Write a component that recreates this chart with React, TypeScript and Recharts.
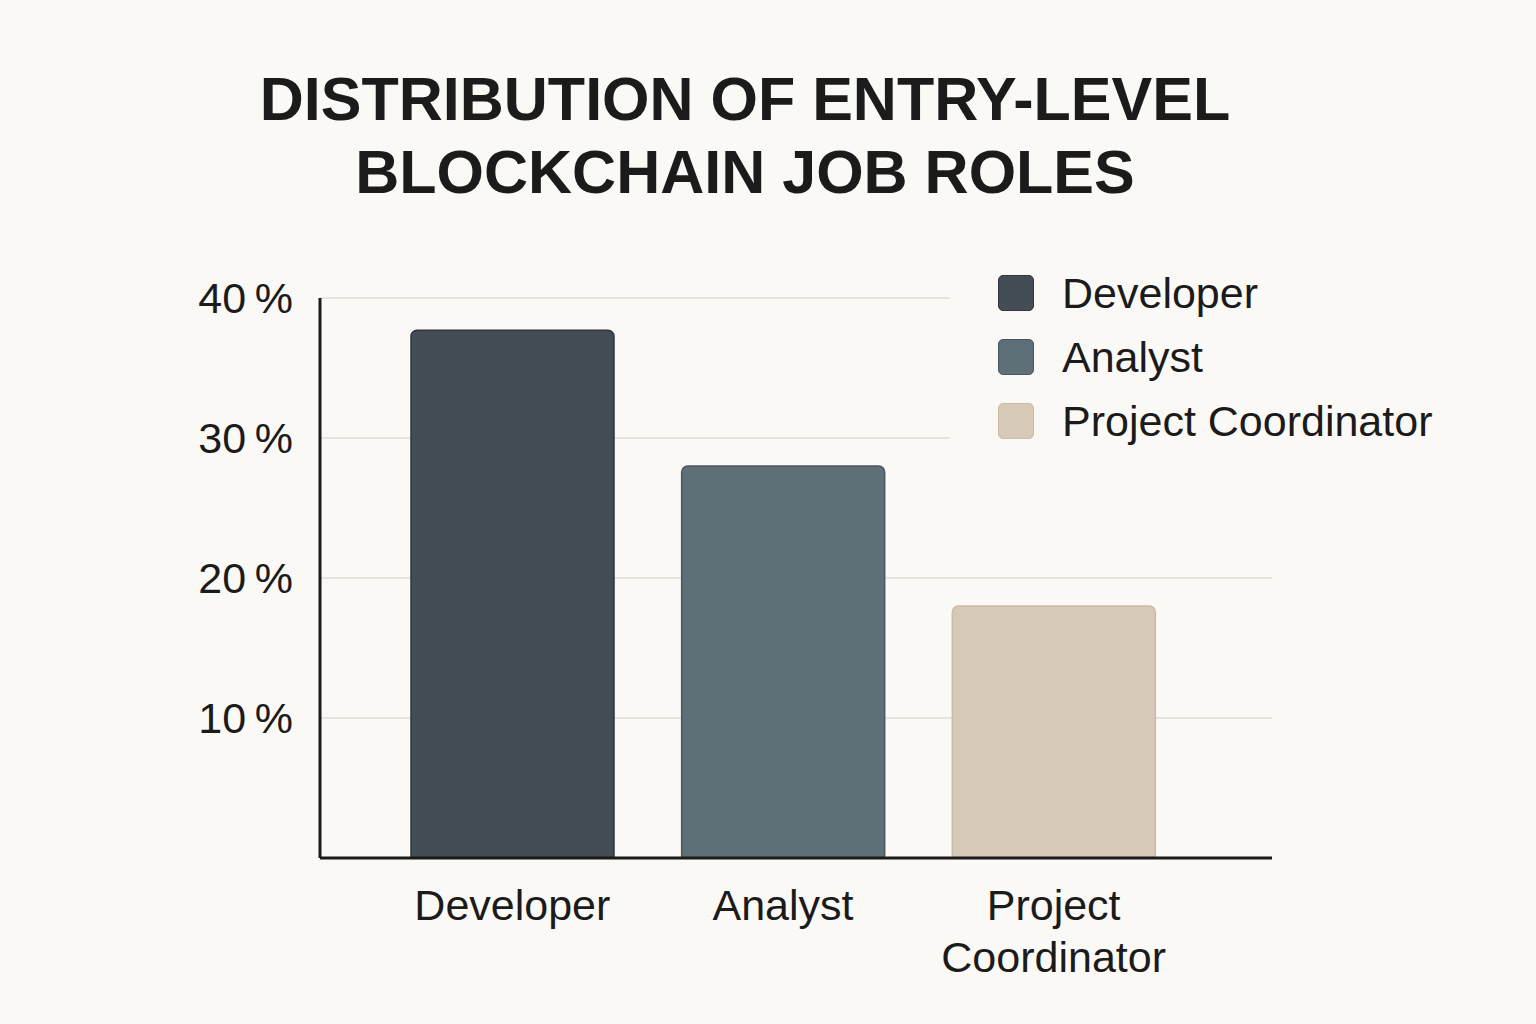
import React from 'react';
import { BarChart, Bar, XAxis, YAxis, CartesianGrid, Legend } from 'recharts';

const categories = ['Developer', 'Analyst', 'Project Coordinator'];
const shares = [37.7, 28, 18];
const colors = ['#444d56', '#5e6f77', '#d7c9b7'];
const strokes = ['#2f363d', '#4a585f', '#cbbca8'];
const yTicks = [10, 20, 30, 40];
const titleLines = ['DISTRIBUTION OF ENTRY-LEVEL', 'BLOCKCHAIN JOB ROLES'];

const BG = '#fbf9f5';
const INK = '#1b1b1b';
const FONT = "'Liberation Sans', Arial, Helvetica, sans-serif";

const data = categories.map((c, i) => ({ name: c, [c]: shares[i] }));

const XTick = (props: any) => {
  const { x, y, payload } = props;
  const words = String(payload.value).split(' ');
  return (
    <text x={x} y={y} textAnchor="middle" fill={INK} fontSize={43} fontFamily={FONT}>
      {words.map((w, i) => (
        <tspan key={i} x={x} dy={i === 0 ? 62 : 52}>
          {w}
        </tspan>
      ))}
    </text>
  );
};

const LegendContent = (props: any) => {
  const items = [...(props.payload || [])].sort(
    (a: any, b: any) => categories.indexOf(a.value) - categories.indexOf(b.value)
  );
  return (
    <div style={{ paddingLeft: 48 }}>
      {items.map((p: any) => {
        const i = categories.indexOf(p.value);
        return (
          <div key={p.value} style={{ display: 'flex', alignItems: 'center', height: 64 }}>
            <div
              style={{
                width: 36,
                height: 36,
                borderRadius: 5,
                background: p.color,
                boxSizing: 'border-box',
                border: `1px solid ${strokes[i]}`,
                marginRight: 28,
              }}
            />
            <span style={{ fontFamily: FONT, fontSize: 43, color: INK, whiteSpace: 'nowrap' }}>{p.value}</span>
          </div>
        );
      })}
    </div>
  );
};

export default function App() {
  return (
    <div style={{ position: 'absolute', left: 0, top: 0, width: 1536, height: 1024, background: BG, overflow: 'hidden' }}>
      <div
        style={{
          position: 'absolute',
          left: 0,
          top: 63,
          width: 1490,
          textAlign: 'center',
          fontFamily: FONT,
          fontWeight: 700,
          fontSize: 61,
          lineHeight: '73px',
          color: INK,
        }}
      >
        {titleLines.map((t, i) => (
          <div key={i}>{t}</div>
        ))}
      </div>
      <div style={{ position: 'absolute', left: 0, top: 0 }}>
        <BarChart width={1536} height={1024} data={data} margin={{ top: 298, right: 264, bottom: 66, left: 200 }}>
          <CartesianGrid vertical={false} stroke="#e6e3de" strokeWidth={2} />
          <XAxis
            dataKey="name"
            height={100}
            tickLine={false}
            tickSize={0}
            tickMargin={0}
            interval={0}
            padding={{ left: 57, right: 83 }}
            axisLine={{ stroke: INK, strokeWidth: 3 }}
            tick={<XTick />}
          />
          <YAxis
            width={120}
            domain={[0, 40]}
            ticks={yTicks}
            tickLine={false}
            tickSize={0}
            tickMargin={27}
            axisLine={{ stroke: INK, strokeWidth: 3 }}
            tickFormatter={(v: number) => `${v}\u2009%`}
            tick={{ fill: INK, fontSize: 43, fontFamily: FONT }}
          />
          <Legend
            layout="vertical"
            align="center"
            verticalAlign="middle"
            content={<LegendContent />}
            wrapperStyle={{ left: 950, top: 261, width: 500, height: 192, background: BG }}
          />
          {categories.map((c, i) => (
            <Bar
              key={c}
              dataKey={c}
              stackId="roles"
              fill={colors[i]}
              stroke={strokes[i]}
              strokeWidth={1.5}
              barSize={203}
              radius={[6, 6, 0, 0]}
              isAnimationActive={false}
            />
          ))}
        </BarChart>
      </div>
    </div>
  );
}
